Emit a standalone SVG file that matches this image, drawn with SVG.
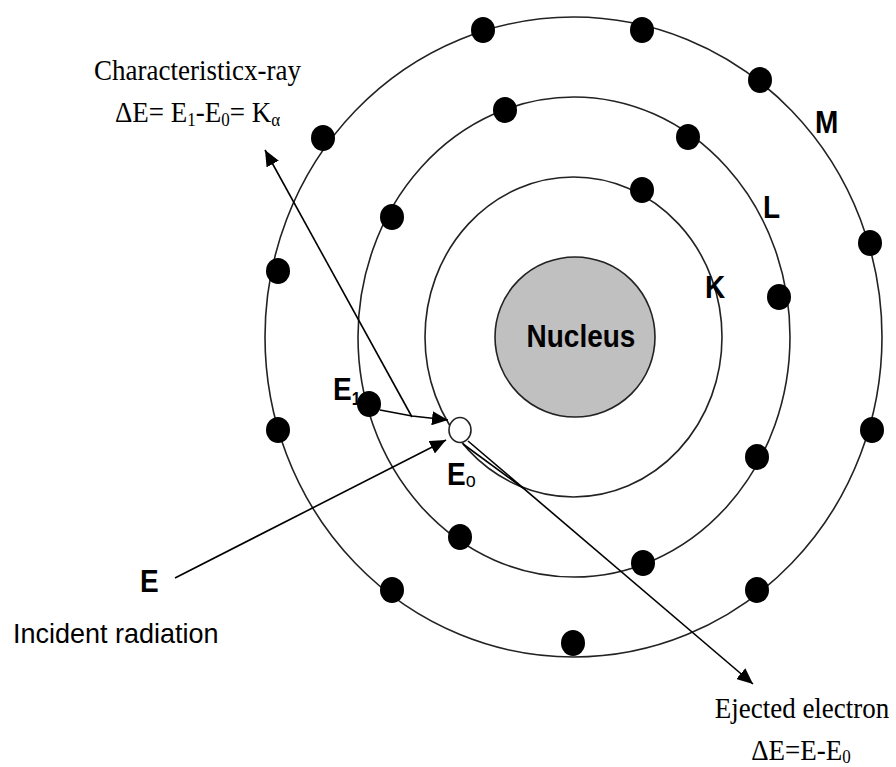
<svg xmlns="http://www.w3.org/2000/svg" width="896" height="767" viewBox="0 0 896 767">
<style>
.ring{fill:none;stroke:#222;stroke-width:1.6}
.el{fill:#000}
.lbl{font-family:"Liberation Sans",Arial,sans-serif;font-weight:bold;font-size:28px;fill:#000}
.ser{font-family:"Liberation Serif","Times New Roman",serif;font-size:27px;fill:#000}
.arr{fill:none;stroke:#000;stroke-width:1.6}
</style>
<defs>
<marker id="ah" markerUnits="userSpaceOnUse" markerWidth="18" markerHeight="14" refX="16" refY="7" orient="auto">
<path d="M0,0 L16,7 L0,14 Z" fill="#000"/>
</marker>
</defs>
<rect width="896" height="767" fill="#fff"/>
<g id="shells">
<ellipse class="ring" cx="573.5" cy="337" rx="308.5" ry="320"/>
<ellipse class="ring" cx="574" cy="337" rx="216" ry="240"/>
<ellipse class="ring" cx="573.5" cy="337" rx="148.5" ry="160"/>
</g>
<g id="nucleus">
<circle cx="575" cy="337" r="80" fill="#c0c0c0" stroke="#222" stroke-width="1.6"/>
<text class="lbl" transform="translate(581,347) scale(1,1.12)" text-anchor="middle">Nucleus</text>
</g>
<g id="m-electrons">
<ellipse class="el" cx="483" cy="30" rx="12" ry="13"/>
<ellipse class="el" cx="642" cy="30" rx="12" ry="13"/>
<ellipse class="el" cx="760" cy="80" rx="12" ry="13"/>
<ellipse class="el" cx="870" cy="243" rx="12" ry="13"/>
<ellipse class="el" cx="872" cy="430" rx="12" ry="13"/>
<ellipse class="el" cx="757" cy="590" rx="12" ry="13"/>
<ellipse class="el" cx="573" cy="643" rx="12" ry="13"/>
<ellipse class="el" cx="392" cy="590" rx="12" ry="13"/>
<ellipse class="el" cx="278" cy="430" rx="12" ry="13"/>
<ellipse class="el" cx="278" cy="271" rx="12" ry="13"/>
<ellipse class="el" cx="323" cy="138" rx="12" ry="13"/>
</g>
<g id="l-electrons">
<ellipse class="el" cx="505" cy="110" rx="12" ry="13"/>
<ellipse class="el" cx="688" cy="137" rx="12" ry="13"/>
<ellipse class="el" cx="779" cy="297" rx="12" ry="13"/>
<ellipse class="el" cx="757" cy="457" rx="12" ry="13"/>
<ellipse class="el" cx="643" cy="563" rx="12" ry="13"/>
<ellipse class="el" cx="460" cy="537" rx="12" ry="13"/>
<ellipse class="el" cx="392" cy="217" rx="12" ry="13"/>
</g>
<g id="e1-electron">
<ellipse class="el" cx="369" cy="404" rx="12" ry="13"/>
<text class="lbl" transform="translate(333,400) scale(1,1.15)" font-size="26">E<tspan font-size="16" dy="4">1</tspan></text>
</g>
<g id="k-electrons">
<ellipse class="el" cx="642" cy="190" rx="12" ry="13"/>
</g>
<g id="e0-vacancy">
<ellipse cx="460" cy="430" rx="11" ry="12.5" fill="#fff" stroke="#222" stroke-width="1.6"/>
<text class="lbl" transform="translate(447,485) scale(1,1.15)" font-size="26">E<tspan font-size="18" font-weight="normal" dy="2">o</tspan></text>
</g>
<g id="shell-labels">
<text class="lbl" transform="translate(815,133) scale(1,1.12)">M</text>
<text class="lbl" transform="translate(763,218) scale(1,1.12)">L</text>
<text class="lbl" transform="translate(705,298) scale(1,1.12)" font-weight="normal">K</text>
</g>
<g id="connectors">
<line class="arr" x1="412" y1="417" x2="265" y2="150" marker-end="url(#ah)"/>
<path class="arr" d="M380,410 L412,416 L448,420" marker-end="url(#ah)"/>
<line class="arr" x1="175" y1="578" x2="446" y2="440" marker-end="url(#ah)"/>
<line class="arr" x1="463" y1="444" x2="523" y2="488"/>
<line class="arr" x1="468" y1="441" x2="753" y2="684" marker-end="url(#ah)"/>
</g>
<g id="labels">
<text class="ser" transform="translate(197.5,80) scale(1,1.12)" text-anchor="middle">Characteristicx-ray</text>
<text class="ser" transform="translate(197.5,122) scale(1,1.12)" text-anchor="middle">ΔE= E<tspan font-size="17" dy="4">1</tspan><tspan dy="-4">-E</tspan><tspan font-size="17" dy="4">0</tspan><tspan dy="-4">= K</tspan><tspan font-size="17" dy="4">α</tspan></text>
<text class="lbl" transform="translate(140,592) scale(1,1.12)">E</text>
<text transform="translate(13,643) scale(1,1.05)" font-family="'Liberation Sans',Arial,sans-serif" font-size="27">Incident radiation</text>
<text class="ser" transform="translate(802,718) scale(1,1.12)" text-anchor="middle">Ejected electron</text>
<text class="ser" transform="translate(801,760) scale(1,1.08)" text-anchor="middle">ΔE=E-E<tspan font-size="17" dy="3">0</tspan></text>
</g>
</svg>
